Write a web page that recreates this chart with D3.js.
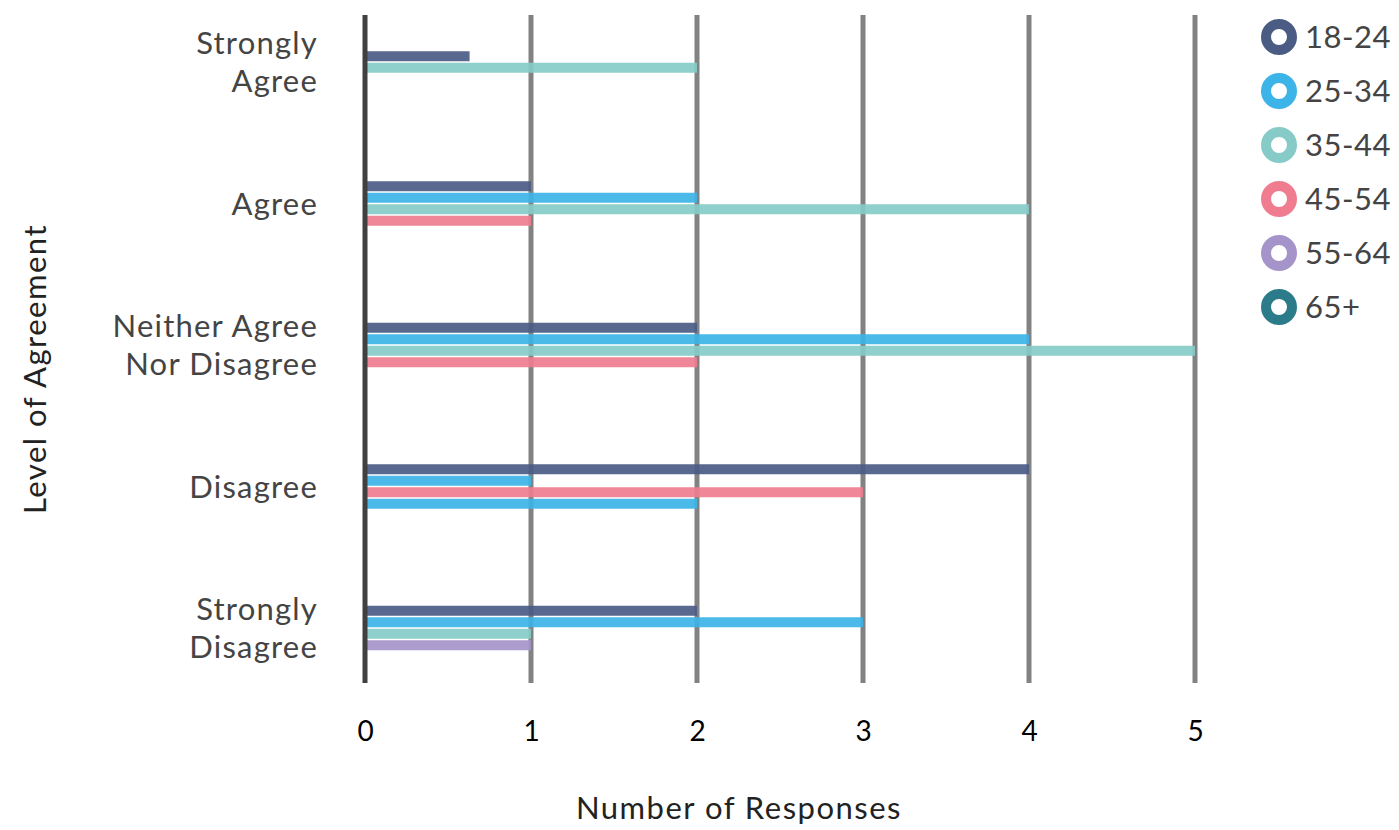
<!DOCTYPE html>
<html>
<head>
<meta charset="utf-8">
<script src="https://cdn.jsdelivr.net/npm/d3@7"></script>
<style>
  html, body { margin: 0; padding: 0; background: #fff; }
  svg { display: block; font-family: Lato, "DejaVu Sans", sans-serif; }
</style>
</head>
<body>
<svg id="chart" width="1399" height="830"></svg>
<script>
// Survey responses by level of agreement and age group
const categories = ["Strongly Agree", "Agree", "Neither Agree Nor Disagree", "Disagree", "Strongly Disagree"];
const categoryLines = [["Strongly", "Agree"], ["Agree"], ["Neither Agree", "Nor Disagree"], ["Disagree"], ["Strongly", "Disagree"]];
const ageGroups = ["18-24", "25-34", "35-44", "45-54", "55-64", "65+"];
const ageColors = ["#4a5b84", "#3cb4e7", "#86cbc8", "#ef7d8f", "#a594c9", "#2b7b8b"];
const xTicks = [0, 1, 2, 3, 4, 5];

// Bars listed per category in drawing order: [age group, responses]
const stronglyAgree = [["18-24", 0.63], ["35-44", 2]];
const agree = [["18-24", 1], ["25-34", 2], ["35-44", 4], ["45-54", 1]];
const neither = [["18-24", 2], ["25-34", 4], ["35-44", 5], ["45-54", 2]];
const disagree = [["18-24", 4], ["25-34", 1], ["45-54", 3], ["25-34", 2]];
const stronglyDisagree = [["18-24", 2], ["25-34", 3], ["35-44", 1], ["55-64", 1]];
const barsByCategory = [stronglyAgree, agree, neither, disagree, stronglyDisagree];

const svg = d3.select("#chart");

const x = d3.scaleLinear().domain([0, 5]).range([365, 1195]);
const y = d3.scalePoint().domain(categories).range([62, 628]);
const color = d3.scaleOrdinal().domain(ageGroups).range(ageColors);

const gridTop = 15, gridBottom = 683;
const barH = 10, barStep = 11.5;
const labelFont = 31, labelSpacing = 1.2;

// vertical grid lines
svg.append("g")
  .selectAll("line")
  .data(xTicks.filter(d => d > 0))
  .join("line")
  .attr("x1", d => x(d)).attr("x2", d => x(d))
  .attr("y1", gridTop).attr("y2", gridBottom)
  .attr("stroke", "#828282")
  .attr("stroke-width", 5);

// bars
const rows = barsByCategory.flatMap((list, ci) =>
  list.map((d, i) => ({ cat: categories[ci], age: d[0], value: d[1], i, n: list.length })));

svg.append("g")
  .selectAll("rect")
  .data(rows)
  .join("rect")
  .attr("x", x(0))
  .attr("y", d => y(d.cat) + (d.i - (d.n - 1) / 2) * barStep - barH / 2)
  .attr("width", d => x(d.value) - x(0))
  .attr("height", barH)
  .attr("fill", d => color(d.age))
  .attr("fill-opacity", 0.92);

// zero axis line
svg.append("line")
  .attr("x1", x(0)).attr("x2", x(0))
  .attr("y1", gridTop).attr("y2", gridBottom)
  .attr("stroke", "#404040")
  .attr("stroke-width", 5);

// x tick labels
const xAxis = d3.axisBottom(x).tickValues(xTicks).tickSize(0).tickPadding(0).tickFormat(d3.format("d"));
const gx = svg.append("g").attr("transform", `translate(0, ${gridBottom + 38})`).call(xAxis);
gx.select(".domain").remove();
gx.selectAll("text")
  .attr("font-family", "Lato, sans-serif")
  .attr("font-size", 28)
  .attr("fill", "#000");

// category labels
const catG = svg.append("g")
  .selectAll("text")
  .data(categories)
  .join("text")
  .attr("text-anchor", "end")
  .attr("font-size", labelFont)
  .attr("letter-spacing", labelSpacing)
  .attr("fill", "#444");
catG.each(function (d, i) {
  const lines = categoryLines[i];
  const lh = 38;
  const t = d3.select(this);
  lines.forEach((ln, k) => {
    t.append("tspan")
      .attr("x", 318)
      .attr("y", y(d) + (k - (lines.length - 1) / 2) * lh + 11)
      .text(ln);
  });
});

// axis titles
svg.append("text")
  .attr("x", 739).attr("y", 819)
  .attr("text-anchor", "middle")
  .attr("font-size", labelFont)
  .attr("letter-spacing", 1.5)
  .attr("fill", "#222")
  .text("Number of Responses");

svg.append("text")
  .attr("transform", "translate(46, 369) rotate(-90)")
  .attr("text-anchor", "middle")
  .attr("font-size", labelFont)
  .attr("letter-spacing", 1.5)
  .attr("fill", "#222")
  .text("Level of Agreement");

// legend
const legend = svg.append("g")
  .selectAll("g")
  .data(ageGroups)
  .join("g")
  .attr("transform", (d, i) => `translate(1279, ${37 + i * 54})`);
legend.append("circle")
  .attr("r", 13)
  .attr("fill", "none")
  .attr("stroke", d => color(d))
  .attr("stroke-width", 10);
legend.append("text")
  .attr("x", 26)
  .attr("y", 11)
  .attr("font-size", labelFont)
  .attr("letter-spacing", 0.5)
  .attr("fill", "#444")
  .text(d => d);
</script>
</body>
</html>
